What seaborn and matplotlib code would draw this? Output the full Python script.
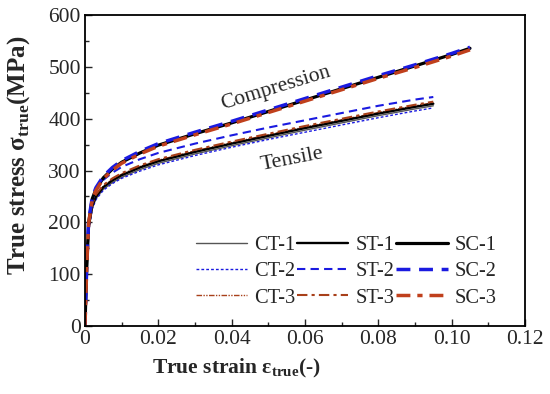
import numpy as np
import pandas as pd
import matplotlib
matplotlib.use('Agg')
import matplotlib.pyplot as plt
import seaborn as sns
from matplotlib.ticker import MultipleLocator, FuncFormatter

# strain points
strain_t = [0, 0.0005, 0.001, 0.002, 0.003, 0.005, 0.0075, 0.01, 0.015, 0.02,
            0.03, 0.04, 0.05, 0.06, 0.07, 0.08, 0.09, 0.095]
strain_c = strain_t + [0.1, 0.105]

# tensile curves (MPa)
ct1 = [0, 108, 186, 228, 246, 264, 277, 287, 302, 314, 332, 348, 363, 378, 392, 406, 419, 425]
ct2 = [0, 104, 182, 226, 244, 262, 275, 285, 299, 311, 329, 345, 360, 374, 388, 402, 415, 421]
ct3 = [0, 110, 190, 234, 252, 270, 283, 293, 308, 320, 338, 354, 369, 384, 398, 412, 425, 431]
st1 = [0, 110, 190, 232, 250, 268, 281, 291, 306, 318, 336, 352, 367, 382, 396, 410, 423, 429]
st2 = [0, 112, 196, 242, 262, 282, 296, 307, 322, 334, 352, 368, 383, 397, 411, 425, 437, 442]
st3 = [0, 111, 192, 236, 254, 272, 285, 295, 310, 322, 340, 356, 371, 386, 400, 414, 427, 433]

# compression curves (MPa)
sc1 = [0, 120, 200, 246, 264, 286, 303, 316, 334, 349, 371, 392, 414, 436, 458, 480, 502, 513, 524, 536]
sc2 = [0, 122, 203, 249, 267, 289, 306, 319, 337, 352, 374, 395, 417, 439, 461, 483, 504, 515, 526, 538]
sc3 = [0, 118, 198, 244, 262, 284, 301, 314, 332, 347, 369, 390, 412, 434, 456, 478, 499, 510, 521, 533]

labels = ['CT-1', 'CT-2', 'CT-3', 'ST-1', 'ST-2', 'ST-3', 'SC-1', 'SC-2', 'SC-3']

sns.set_style('ticks')
plt.rcParams['font.family'] = ['Liberation Serif', 'DejaVu Serif']
plt.rcParams['mathtext.fontset'] = 'custom'
plt.rcParams['mathtext.rm'] = 'Liberation Serif'
plt.rcParams['mathtext.bf'] = 'Liberation Serif:bold'

fig = plt.figure(figsize=(5.5, 3.94), dpi=100)
ax = fig.add_axes([0.1545, 0.1726, 0.80, 0.789])

blue = '#1a1ae0'
brown = '#a8401a'
red = '#c0401c'
styles = [
    ('#555555', '-', 1.0),
    (blue, (0, (2, 1.5)), 1.0),
    (brown, (0, (4, 1, 1, 1, 1, 1)), 1.0),
    ('black', '-', 1.7),
    (blue, (0, (4, 2.5)), 1.5),
    (brown, (0, (5, 2, 1.5, 2)), 1.5),
    ('black', '-', 2.3),
    (blue, (0, (4, 2.5)), 2.5),
    (red, (0, (4, 2, 1.5, 2)), 2.5),
]
curves = [(strain_t, ct1), (strain_t, ct2), (strain_t, ct3),
          (strain_t, st1), (strain_t, st2), (strain_t, st3),
          (strain_c, sc1), (strain_c, sc2), (strain_c, sc3)]
for (x, y), lab, (c, ls, lw) in zip(curves, labels, styles):
    sns.lineplot(x=x, y=y, ax=ax, color=c, linestyle=ls, linewidth=lw, label=lab)

ax.set_xlim(0, 0.12)
ax.set_ylim(0, 600)
ax.xaxis.set_major_locator(MultipleLocator(0.02))
ax.xaxis.set_minor_locator(MultipleLocator(0.01))
ax.yaxis.set_major_locator(MultipleLocator(100))
ax.yaxis.set_minor_locator(MultipleLocator(50))
ax.xaxis.set_major_formatter(FuncFormatter(lambda v, p: '0' if abs(v) < 1e-9 else f'{v:.2f}'))
ax.tick_params(which='both', direction='in', top=False, right=False, labelsize=15.5)
ax.tick_params(which='major', length=5, width=1, pad=3)
ax.tick_params(which='minor', length=3, width=1)
for s in ax.spines.values():
    s.set_linewidth(1.3)
    s.set_color('black')

ax.set_xlabel(r'True strain ε$_{\mathbf{true}}$(-)', fontsize=15.5, fontweight='bold')
ax.set_ylabel(r'True stress σ$_{\mathbf{true}}$(MPa)', fontsize=18, fontweight='bold')
ax.xaxis.set_label_coords(0.345, -0.10)
ax.yaxis.set_label_coords(-0.12, 0.55)

ax.text(0.052, 458, 'Compression', fontsize=15.5, rotation=17, ha='center', va='center')
ax.text(0.0565, 322, 'Tensile', fontsize=16, rotation=11, ha='center', va='center')

handles, labs = ax.get_legend_handles_labels()
ax.legend(handles, labs, ncol=3, loc='lower left', bbox_to_anchor=(0.21, 0.0),
          frameon=False, fontsize=14.7, handlelength=2.5, handletextpad=0.35,
          columnspacing=0.1, labelspacing=0.35)

fig.savefig('out.png', dpi=100)
